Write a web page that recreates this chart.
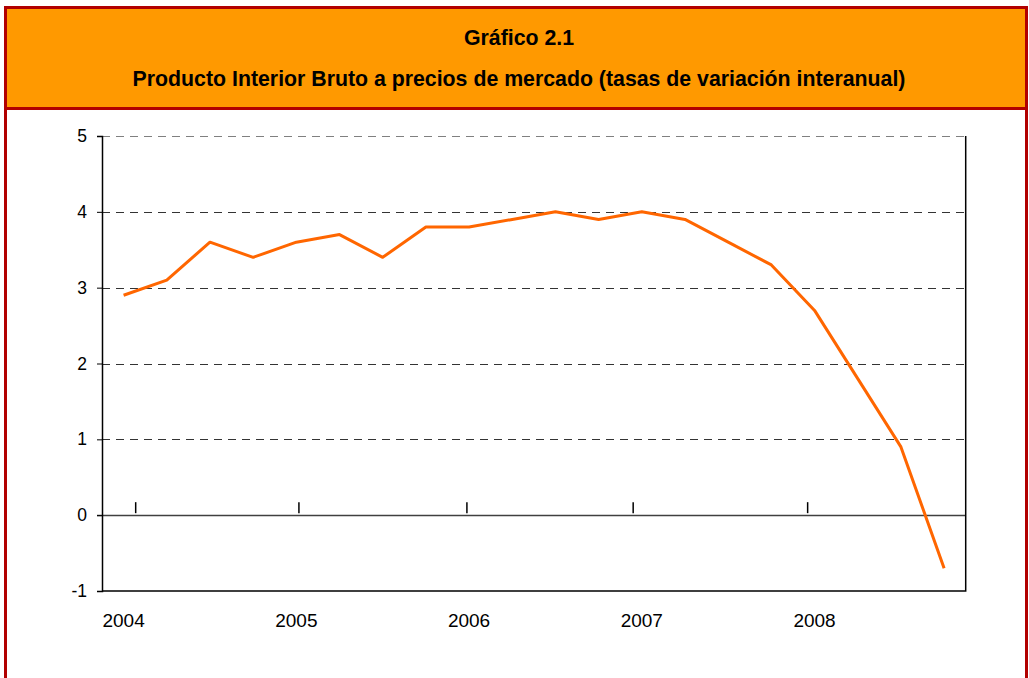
<!DOCTYPE html>
<html>
<head>
<meta charset="utf-8">
<script src="https://cdn.jsdelivr.net/npm/d3@7"></script>
<style>
  body { margin: 0; background: #fff; }
  svg { display: block; font-family: "Liberation Sans", Arial, sans-serif; }
</style>
</head>
<body>
<div class="canvas"></div>
<script>
// PIB, tasas de variación interanual (trimestral)
const quarters = [
  "2004T1", "2004T2", "2004T3", "2004T4",
  "2005T1", "2005T2", "2005T3", "2005T4",
  "2006T1", "2006T2", "2006T3", "2006T4",
  "2007T1", "2007T2", "2007T3", "2007T4",
  "2008T1", "2008T2", "2008T3", "2008T4",
];
const values = [
  2.9, 3.1, 3.6, 3.4, 3.6, 3.7, 3.4, 3.8, 3.8, 3.9,
  4.0, 3.9, 4.0, 3.9, 3.6, 3.3, 2.7, 1.8, 0.9, -0.7,
];
const yTicks = [-1, 0, 1, 2, 3, 4, 5];
const yearLabels = ["2004", "2005", "2006", "2007", "2008"];
const yearLabelQuarters = ["2004T1", "2005T1", "2006T1", "2007T1", "2008T1"];
// little marks over the zero line, in quarter units from the left edge
const yearMarks = [0.78, 4.56, 8.45, 12.3, 16.34];

const titleLines = [
  "Gráfico 2.1",
  "Producto Interior Bruto a precios de mercado (tasas de variación interanual)",
];

const width = 1029;
const height = 678;
const margin = { top: 136, right: 63.3, bottom: 87, left: 102 };

const svg = d3
  .select(".canvas")
  .append("svg")
  .attr("width", width)
  .attr("height", height);

// frame + orange header
const red = "#b10000";
svg
  .append("rect")
  .attr("x", 5.5)
  .attr("y", 7.5)
  .attr("width", 1021)
  .attr("height", 700)
  .attr("fill", "#fff")
  .attr("stroke", red)
  .attr("stroke-width", 3);

svg
  .append("rect")
  .attr("x", 7)
  .attr("y", 9)
  .attr("width", 1018)
  .attr("height", 98)
  .attr("fill", "#ff9900");

svg
  .append("line")
  .attr("x1", 5)
  .attr("x2", 1027)
  .attr("y1", 108.5)
  .attr("y2", 108.5)
  .attr("stroke", red)
  .attr("stroke-width", 3);

svg
  .selectAll(".title")
  .data(titleLines)
  .enter()
  .append("text")
  .attr("class", "title")
  .attr("x", 519)
  .attr("y", (d, i) => 45 + i * 41)
  .attr("text-anchor", "middle")
  .attr("font-weight", "bold")
  .attr("font-size", "21.3px")
  .attr("fill", "#000")
  .text((d) => d);

// scales
const x = d3
  .scaleBand()
  .domain(quarters)
  .range([margin.left, width - margin.right]);

const xIdx = d3
  .scaleLinear()
  .domain([0, quarters.length])
  .range([margin.left, width - margin.right]);

const y = d3
  .scaleLinear()
  .domain([-1, 5])
  .range([height - margin.bottom, margin.top]);

const chart = svg.append("g");

// dashed gridlines
chart
  .selectAll(".grid")
  .data(yTicks.filter((d) => d > 0))
  .enter()
  .append("line")
  .attr("class", "grid")
  .attr("x1", margin.left)
  .attr("x2", width - margin.right)
  .attr("y1", (d) => Math.round(y(d)) + 0.5)
  .attr("y2", (d) => Math.round(y(d)) + 0.5)
  .attr("stroke", (d) => (d === 5 ? "#808080" : "#333"))
  .attr("stroke-width", 1)
  .attr("stroke-dasharray", "8,6");

// zero line
chart
  .append("line")
  .attr("x1", margin.left - 5)
  .attr("x2", width - margin.right)
  .attr("y1", Math.round(y(0)) + 0.5)
  .attr("y2", Math.round(y(0)) + 0.5)
  .attr("stroke", "#404040")
  .attr("stroke-width", 1.5);

// plot border: bottom and right
chart
  .append("path")
  .attr(
    "d",
    `M${margin.left},${y(-1)}H${width - margin.right}V${y(5)}`
  )
  .attr("fill", "none")
  .attr("stroke", "#000")
  .attr("stroke-width", 1.5);

// y axis
const yAxis = d3
  .axisLeft(y)
  .tickValues(yTicks)
  .tickSize(5)
  .tickPadding(10)
  .tickFormat((d) => String(d));

const yg = chart
  .append("g")
  .attr("transform", `translate(${margin.left},0)`)
  .call(yAxis);
yg.select(".domain").attr("stroke", "#000").attr("stroke-width", 1.5);
yg.selectAll(".tick line").attr("stroke", "#000");
yg.selectAll(".tick text")
  .attr("font-family", "Liberation Sans, Arial, sans-serif")
  .attr("font-size", "17.5px")
  .attr("fill", "#000");

// year marks over the zero line
chart
  .selectAll(".ymark")
  .data(yearMarks)
  .enter()
  .append("line")
  .attr("class", "ymark")
  .attr("x1", (d) => xIdx(d))
  .attr("x2", (d) => xIdx(d))
  .attr("y1", y(0) - 13)
  .attr("y2", y(0) - 2)
  .attr("stroke", "#000")
  .attr("stroke-width", 1.5);

// year labels
chart
  .selectAll(".ylabel")
  .data(yearLabels)
  .enter()
  .append("text")
  .attr("class", "ylabel")
  .attr("x", (d, i) => x(yearLabelQuarters[i]) + x.bandwidth() / 2)
  .attr("y", y(-1) + 36)
  .attr("text-anchor", "middle")
  .attr("font-size", "19px")
  .attr("fill", "#000")
  .text((d) => d);

// series
const line = d3
  .line()
  .x((d, i) => x(quarters[i]) + x.bandwidth() / 2)
  .y((d) => y(d));

chart
  .append("path")
  .datum(values)
  .attr("d", line)
  .attr("fill", "none")
  .attr("stroke", "#ff6600")
  .attr("stroke-width", 3)
  .attr("stroke-linejoin", "round");
</script>
</body>
</html>
